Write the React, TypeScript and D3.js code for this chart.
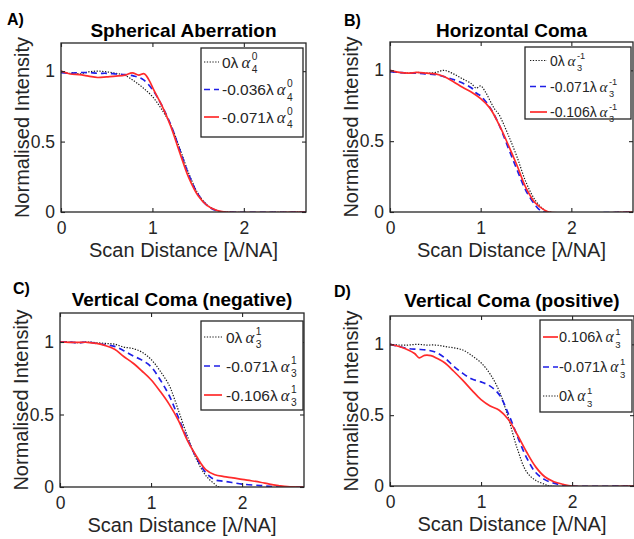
import React, { useEffect, useRef } from 'react'
import * as d3 from 'd3'

type Pt = [number, number]

// A) Spherical Aberration
const aZero: Pt[] = [[0, 1.0], [0.05, 0.99], [0.1, 0.985], [0.15, 0.99], [0.2, 0.98], [0.3, 0.995], [0.4, 1.0], [0.5, 0.995], [0.6, 0.985], [0.7, 0.97], [0.8, 0.93], [0.9, 0.88], [1.0, 0.82], [1.1, 0.73], [1.2, 0.62], [1.3, 0.45], [1.4, 0.27], [1.5, 0.13], [1.6, 0.05], [1.7, 0.012], [1.8, 0], [2.68, 0]]
const aMid: Pt[] = [[0, 0.99], [0.1, 0.985], [0.2, 0.99], [0.3, 0.99], [0.4, 0.985], [0.5, 0.985], [0.6, 0.98], [0.7, 0.975], [0.8, 0.965], [0.9, 0.94], [1.0, 0.87], [1.1, 0.76], [1.2, 0.62], [1.3, 0.44], [1.4, 0.26], [1.5, 0.125], [1.6, 0.045], [1.7, 0.01], [1.8, 0], [2.68, 0]]
const aHigh: Pt[] = [[0, 1.0], [0.1, 0.98], [0.2, 0.975], [0.3, 0.965], [0.4, 0.955], [0.5, 0.96], [0.6, 0.965], [0.7, 0.972], [0.78, 0.988], [0.85, 0.972], [0.91, 0.982], [0.96, 0.94], [1.02, 0.86], [1.1, 0.76], [1.2, 0.61], [1.3, 0.42], [1.4, 0.24], [1.5, 0.115], [1.6, 0.045], [1.7, 0.012], [1.8, 0], [2.68, 0]]

// B) Horizontal Coma
const bZero: Pt[] = [[0, 0.99], [0.1, 0.985], [0.2, 0.98], [0.3, 0.985], [0.4, 0.98], [0.5, 0.985], [0.6, 1.0], [0.7, 0.975], [0.8, 0.94], [0.9, 0.905], [0.95, 0.875], [1.0, 0.89], [1.05, 0.85], [1.1, 0.79], [1.15, 0.73], [1.2, 0.69], [1.3, 0.55], [1.4, 0.39], [1.5, 0.21], [1.6, 0.085], [1.7, 0.015], [1.75, 0], [2.68, 0]]
const bMid: Pt[] = [[0, 0.99], [0.1, 0.985], [0.2, 0.98], [0.3, 0.98], [0.4, 0.975], [0.5, 0.97], [0.6, 0.955], [0.7, 0.935], [0.8, 0.91], [0.9, 0.875], [0.95, 0.84], [1.0, 0.82], [1.1, 0.74], [1.2, 0.62], [1.3, 0.46], [1.4, 0.3], [1.5, 0.15], [1.6, 0.05], [1.65, 0.015], [1.7, 0], [2.68, 0]]
const bHigh: Pt[] = [[0, 1.0], [0.1, 0.985], [0.2, 0.98], [0.3, 0.985], [0.4, 0.98], [0.5, 0.975], [0.6, 0.955], [0.7, 0.92], [0.8, 0.88], [0.9, 0.845], [1.0, 0.8], [1.1, 0.735], [1.2, 0.62], [1.3, 0.48], [1.4, 0.33], [1.5, 0.17], [1.6, 0.065], [1.7, 0.015], [1.75, 0], [2.68, 0]]

// C) Vertical Coma (negative)
const cZero: Pt[] = [[0, 1.0], [0.1, 1.0], [0.2, 0.995], [0.3, 1.0], [0.4, 0.995], [0.5, 0.99], [0.6, 0.985], [0.7, 0.965], [0.8, 0.955], [0.9, 0.93], [1.0, 0.88], [1.1, 0.8], [1.2, 0.7], [1.25, 0.62], [1.3, 0.53], [1.4, 0.35], [1.5, 0.19], [1.6, 0.08], [1.7, 0.02], [1.75, 0], [2.68, 0]]
const cMid: Pt[] = [[0, 1.0], [0.1, 1.0], [0.2, 0.995], [0.3, 1.0], [0.4, 0.99], [0.5, 0.98], [0.6, 0.97], [0.7, 0.94], [0.8, 0.905], [0.9, 0.875], [1.0, 0.83], [1.1, 0.74], [1.2, 0.63], [1.3, 0.48], [1.4, 0.33], [1.5, 0.2], [1.6, 0.1], [1.7, 0.05], [1.8, 0.04], [1.9, 0.03], [2.0, 0.02], [2.2, 0.01], [2.4, 0], [2.68, 0]]
const cHigh: Pt[] = [[0, 1.0], [0.1, 0.998], [0.2, 0.997], [0.3, 0.998], [0.4, 0.99], [0.5, 0.975], [0.6, 0.95], [0.7, 0.9], [0.8, 0.855], [0.9, 0.8], [1.0, 0.74], [1.1, 0.66], [1.2, 0.57], [1.3, 0.46], [1.4, 0.32], [1.5, 0.21], [1.6, 0.12], [1.7, 0.085], [1.8, 0.072], [1.9, 0.063], [2.0, 0.052], [2.1, 0.043], [2.2, 0.033], [2.3, 0.02], [2.4, 0.01], [2.5, 0.002], [2.68, 0]]

// D) Vertical Coma (positive)
const dHigh: Pt[] = [[0, 1.0], [0.1, 0.985], [0.2, 0.96], [0.27, 0.935], [0.32, 0.905], [0.38, 0.922], [0.45, 0.92], [0.52, 0.9], [0.6, 0.87], [0.7, 0.81], [0.8, 0.745], [0.9, 0.675], [1.0, 0.61], [1.1, 0.565], [1.2, 0.535], [1.3, 0.47], [1.4, 0.36], [1.5, 0.24], [1.6, 0.135], [1.7, 0.065], [1.8, 0.03], [1.9, 0.012], [2.0, 0], [2.68, 0]]
const dMid: Pt[] = [[0, 1.0], [0.1, 0.985], [0.2, 0.97], [0.3, 0.965], [0.4, 0.96], [0.5, 0.945], [0.6, 0.905], [0.7, 0.845], [0.8, 0.795], [0.9, 0.755], [1.0, 0.735], [1.1, 0.705], [1.2, 0.645], [1.3, 0.51], [1.4, 0.35], [1.5, 0.2], [1.6, 0.095], [1.7, 0.045], [1.8, 0.02], [1.9, 0.005], [1.95, 0], [2.68, 0]]
const dZero: Pt[] = [[0, 1.0], [0.1, 0.995], [0.2, 0.995], [0.3, 1.0], [0.4, 0.995], [0.5, 0.995], [0.6, 0.985], [0.7, 0.975], [0.8, 0.96], [0.9, 0.92], [1.0, 0.87], [1.1, 0.79], [1.2, 0.67], [1.3, 0.48], [1.4, 0.26], [1.5, 0.1], [1.6, 0.04], [1.7, 0.012], [1.75, 0], [2.68, 0]]

const xTicks = [0, 1, 2]
const yTicks = [0, 0.5, 1]
const xDomain = [0, 2.68]
const yDomain = [0, 1.2]
const xLabel = 'Scan Distance [λ/NA]'
const yLabel = 'Normalised Intensity'

const FONT = '"Liberation Sans", Arial, Helvetica, sans-serif'
const AXIS = '#262626'
const RED = '#ff2b2b'
const BLUE = '#1f1fe6'
const BLACK = '#1a1a1a'

const styles = {
  zero: { stroke: BLACK, width: 1.2, dash: '1.3 1.5' },
  mid: { stroke: BLUE, width: 1.7, dash: '6 4' },
  high: { stroke: RED, width: 1.7, dash: null },
}

const Axis = ({ kind, scale, ticks, labels, transform }) => {
  const ref = useRef<SVGGElement>(null)
  useEffect(() => {
    if (!ref.current) return
    const gen = kind === 'bottom' ? d3.axisBottom(scale)
      : kind === 'top' ? d3.axisTop(scale)
      : kind === 'left' ? d3.axisLeft(scale) : d3.axisRight(scale)
    gen.tickValues(ticks).tickSizeInner(-4).tickSizeOuter(0)
      .tickPadding(kind === 'bottom' ? 10 : 6)
      .tickFormat(labels ? d3.format('') : () => '')
    const g = d3.select(ref.current)
    g.call(gen)
    g.select('.domain').remove()
    g.attr('font-size', null).attr('font-family', null)
    g.selectAll('line').attr('stroke', AXIS).attr('stroke-width', 1.1)
    g.selectAll('text').attr('fill', AXIS).attr('font-size', 17.5).attr('font-family', FONT)
  }, [scale, ticks])
  return <g ref={ref} transform={transform} />
}

// legend entry: "<coef>λ α_sub^sup"
const LegendEntry = ({ x, y, fs, coef, sub, sup, style, sample }) => {
  const ss = fs * 0.66
  const supW = sup.split('').reduce((s, c) => s + (c === '-' ? 0.333 : 0.556), 0) * ss
  return (
    <g>
      <line x1={sample[0]} x2={sample[1]} y1={y} y2={y} stroke={style.stroke}
        strokeWidth={style.width} strokeDasharray={style.dash || undefined} />
      <text x={x} y={y + fs * 0.36} fontSize={fs} fontFamily={FONT} fill={AXIS}>
        <tspan>{coef}{'\u2009'}</tspan>
        <tspan fontFamily='"Liberation Serif", "DejaVu Serif", serif' fontStyle="italic" fontSize={fs * 1.08}>α</tspan>
        <tspan fontSize={ss} dx={1.5} dy={-fs * 0.5}>{sup}</tspan>
        <tspan fontSize={ss} dx={-supW} dy={fs * 0.88}>{sub}</tspan>
      </text>
    </g>
  )
}

const Panel = ({ id, letter, letterPos, title, titleY, box, series, legend }) => {
  const x = d3.scaleLinear().domain(xDomain).range([box.l, box.r])
  const y = d3.scaleLinear().domain(yDomain).range([box.b, box.t])
  const line = d3.line<Pt>().x(d => x(d[0])).y(d => y(d[1])).curve(d3.curveCatmullRom.alpha(0.5))
  const cx = (box.l + box.r) / 2
  const cy = (box.t + box.b) / 2
  return (
    <g>
      <defs>
        <clipPath id={`clip-${id}`}>
          <rect x={box.l} y={box.t} width={box.r - box.l} height={box.b - box.t} />
        </clipPath>
      </defs>
      <text x={letterPos[0]} y={letterPos[1]} fontSize={16} fontWeight="bold" fontFamily={FONT} fill="#000">{letter}</text>
      <text x={cx} y={titleY} textAnchor="middle" fontSize={19} fontWeight="bold" fontFamily={FONT} fill="#000">{title}</text>
      <g clipPath={`url(#clip-${id})`}>
        {series.map(s => (
          <path key={s.key} d={line(s.data)} fill="none" stroke={s.style.stroke}
            strokeWidth={s.style.width} strokeDasharray={s.style.dash || undefined} />
        ))}
      </g>
      <Axis kind="bottom" scale={x} ticks={xTicks} labels transform={`translate(0,${box.b})`} />
      <Axis kind="top" scale={x} ticks={xTicks} labels={false} transform={`translate(0,${box.t})`} />
      <Axis kind="left" scale={y} ticks={yTicks} labels transform={`translate(${box.l},0)`} />
      <Axis kind="right" scale={y} ticks={yTicks} labels={false} transform={`translate(${box.r},0)`} />
      <rect x={box.l} y={box.t} width={box.r - box.l} height={box.b - box.t} fill="none" stroke={AXIS} strokeWidth={1.3} />
      <text x={cx} y={box.b + 45} textAnchor="middle" fontSize={20} fontFamily={FONT} fill={AXIS}>{xLabel}</text>
      <text transform={`translate(${box.l - 32},${cy}) rotate(-90)`} textAnchor="middle" fontSize={20} fontFamily={FONT} fill={AXIS}>{yLabel}</text>
      <rect x={legend.x0} y={legend.y0} width={legend.x1 - legend.x0} height={legend.y1 - legend.y0} fill="#fff" stroke={AXIS} strokeWidth={1.3} />
      {legend.rows.map((r, i) => (
        <LegendEntry key={i} x={legend.tx} y={legend.ry[i]} fs={legend.fs} coef={r.coef}
          sub={legend.sub} sup={legend.sup} style={r.style} sample={legend.sample} />
      ))}
    </g>
  )
}

const panels = [
  {
    id: 'a', letter: 'A)', letterPos: [7, 25], title: 'Spherical Aberration', titleY: 37,
    box: { l: 61, r: 306, t: 43, b: 212 },
    series: [{ key: 'z', data: aZero, style: styles.zero }, { key: 'm', data: aMid, style: styles.mid }, { key: 'h', data: aHigh, style: styles.high }],
    legend: {
      x0: 201, x1: 303, y0: 48, y1: 137, ry: [62, 89.5, 117], sample: [204, 219], tx: 222, fs: 15.5, sup: '0', sub: '4',
      rows: [{ coef: '0λ', style: styles.zero }, { coef: '-0.036λ', style: styles.mid }, { coef: '-0.071λ', style: styles.high }],
    },
  },
  {
    id: 'b', letter: 'B)', letterPos: [344, 26], title: 'Horizontal Coma', titleY: 37,
    box: { l: 390, r: 633, t: 42, b: 212 },
    series: [{ key: 'z', data: bZero, style: styles.zero }, { key: 'm', data: bMid, style: styles.mid }, { key: 'h', data: bHigh, style: styles.high }],
    legend: {
      x0: 525, x1: 631, y0: 47, y1: 119, ry: [60.5, 86.5, 112], sample: [530, 547], tx: 550, fs: 14, sup: '-1', sub: '3',
      rows: [{ coef: '0λ', style: styles.zero }, { coef: '-0.071λ', style: styles.mid }, { coef: '-0.106λ', style: styles.high }],
    },
  },
  {
    id: 'c', letter: 'C)', letterPos: [13, 294], title: 'Vertical Coma (negative)', titleY: 306,
    box: { l: 60, r: 304, t: 313, b: 487 },
    series: [{ key: 'z', data: cZero, style: styles.zero }, { key: 'm', data: cMid, style: styles.mid }, { key: 'h', data: cHigh, style: styles.high }],
    legend: {
      x0: 201, x1: 303, y0: 321, y1: 410, ry: [337, 366, 395], sample: [204, 222], tx: 226, fs: 15.5, sup: '1', sub: '3',
      rows: [{ coef: '0λ', style: styles.zero }, { coef: '-0.071λ', style: styles.mid }, { coef: '-0.106λ', style: styles.high }],
    },
  },
  {
    id: 'd', letter: 'D)', letterPos: [334, 297], title: 'Vertical Coma (positive)', titleY: 307,
    box: { l: 390, r: 634, t: 316, b: 486 },
    series: [{ key: 'z', data: dZero, style: styles.zero }, { key: 'm', data: dMid, style: styles.mid }, { key: 'h', data: dHigh, style: styles.high }],
    legend: {
      x0: 540, x1: 632, y0: 320, y1: 412, ry: [337, 367, 396], sample: [543, 558], tx: 559, fs: 14.5, sup: '1', sub: '3',
      rows: [{ coef: '0.106λ', style: styles.high }, { coef: '-0.071λ', style: styles.mid }, { coef: '0λ', style: styles.zero }],
    },
  },
]

export default function App() {
  return (
    <svg width={634} height={539} style={{ position: 'absolute', left: 0, top: 0, background: '#fff' }}>
      <rect width={634} height={539} fill="#fff" />
      {panels.map(p => <Panel key={p.id} {...p} />)}
    </svg>
  )
}
